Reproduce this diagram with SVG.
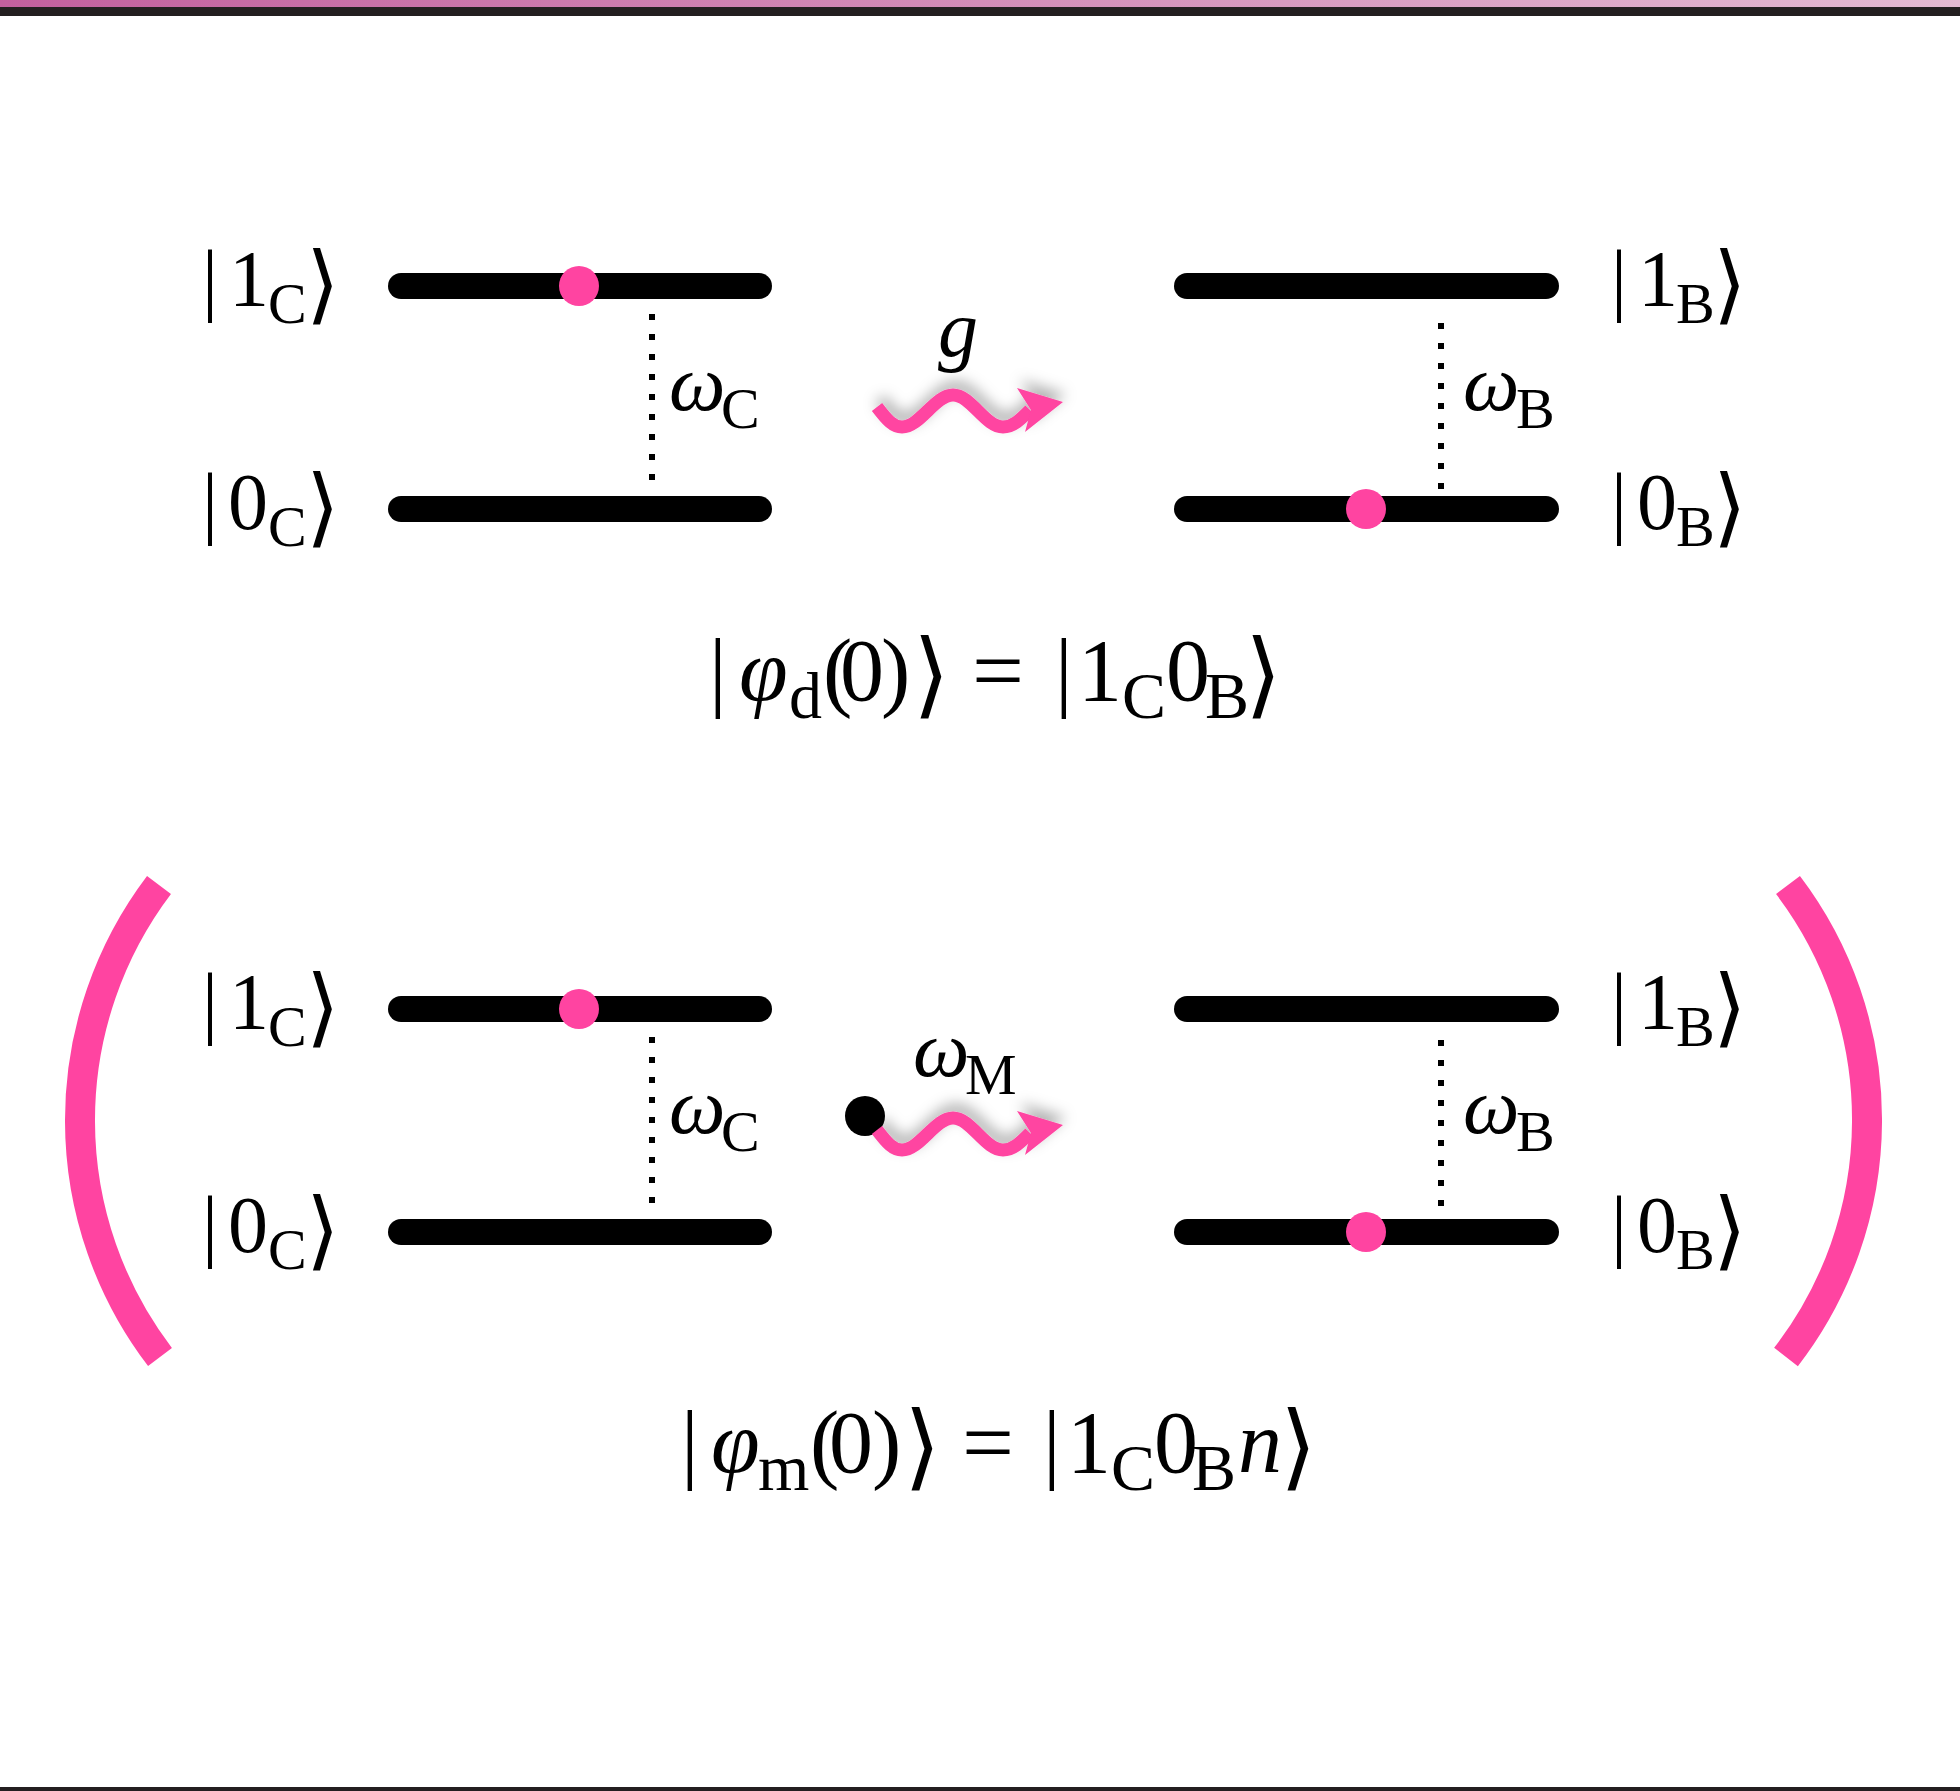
<svg xmlns="http://www.w3.org/2000/svg" width="1960" height="1791" viewBox="0 0 1960 1791">
<defs>
<linearGradient id="band" x1="0" y1="0" x2="1" y2="0">
<stop offset="0" stop-color="#c3609e"/>
<stop offset="1" stop-color="#e3bad2"/>
</linearGradient>
<filter id="sh" x="-30%" y="-80%" width="160%" height="260%">
<feDropShadow dx="3" dy="-8" stdDeviation="7" flood-color="#000" flood-opacity="0.3"/>
</filter>
<style>
.bar{stroke:#000;stroke-width:26;stroke-linecap:round;fill:none}
.dot{stroke:#000;stroke-width:6;stroke-dasharray:6 14;fill:none}
.pk{fill:#ff44a1}
.wave{stroke:#ff44a1;stroke-width:13;fill:none}
.brk{stroke:#ff44a1;stroke-width:30;fill:none}
.t{font-family:"Liberation Serif","DejaVu Serif","DejaVu Sans",serif;fill:#000}
.m{font-size:80px}
.s{font-size:58px}
.ka{font-size:86px}
.e{font-size:88px}
.es{font-size:66px}
.ek{font-size:94px}
.i{font-style:italic}
</style>
</defs>
<rect x="0" y="0" width="1960" height="1791" fill="#fff"/>
<rect x="0" y="0" width="1960" height="7" fill="url(#band)"/>
<rect x="0" y="7" width="1960" height="9" fill="#231f20"/>
<rect x="0" y="1787" width="1960" height="4" fill="#231f20"/>

<g id="top-cavity">
<line class="bar" x1="401" y1="286" x2="759" y2="286"/>
<line class="bar" x1="401" y1="509" x2="759" y2="509"/>
<line class="dot" x1="652" y1="314" x2="652" y2="484"/>
<circle class="pk" cx="579" cy="286" r="20"/>
<text class="t m" y="306"><tspan x="202">|</tspan><tspan x="229">1</tspan><tspan class="s" x="268" y="323">C</tspan><tspan class="ka" x="306" y="313">⟩</tspan></text>
<text class="t m" y="529"><tspan x="202">|</tspan><tspan x="228">0</tspan><tspan class="s" x="268" y="546">C</tspan><tspan class="ka" x="306" y="536">⟩</tspan></text>
<text class="t m" y="410"><tspan class="i" x="669">ω</tspan><tspan class="s" x="721" y="428">C</tspan></text>
</g>

<g id="top-bath">
<line class="bar" x1="1187" y1="286" x2="1546" y2="286"/>
<line class="bar" x1="1187" y1="509" x2="1546" y2="509"/>
<line class="dot" x1="1441" y1="323" x2="1441" y2="491"/>
<circle class="pk" cx="1366" cy="509" r="20"/>
<text class="t m" y="306"><tspan x="1611">|</tspan><tspan x="1638">1</tspan><tspan class="s" x="1676" y="323">B</tspan><tspan class="ka" x="1713" y="313">⟩</tspan></text>
<text class="t m" y="529"><tspan x="1611">|</tspan><tspan x="1637">0</tspan><tspan class="s" x="1676" y="546">B</tspan><tspan class="ka" x="1713" y="536">⟩</tspan></text>
<text class="t m" y="410"><tspan class="i" x="1463">ω</tspan><tspan class="s" x="1516" y="428">B</tspan></text>
</g>

<g id="top-equation">
<text class="t e" y="700"><tspan x="709">|</tspan><tspan class="i" x="739">φ</tspan><tspan class="es" x="789" y="718">d</tspan><tspan x="823" y="700">(</tspan><tspan x="840">0</tspan><tspan x="881">)</tspan><tspan class="ek" x="913" y="706">⟩</tspan><tspan x="1055" y="700">|</tspan><tspan x="1078">1</tspan><tspan class="es" x="1122" y="718">C</tspan><tspan x="1166" y="700">0</tspan><tspan class="es" x="1205" y="718">B</tspan><tspan class="ek" x="1245" y="706">⟩</tspan></text>
<text class="t e" x="972" y="700" textLength="52" lengthAdjust="spacingAndGlyphs">=</text>
</g>

<g id="bottom-cavity">
<line class="bar" x1="401" y1="1009" x2="759" y2="1009"/>
<line class="bar" x1="401" y1="1232" x2="759" y2="1232"/>
<line class="dot" x1="652" y1="1037" x2="652" y2="1207"/>
<circle class="pk" cx="579" cy="1009" r="20"/>
<text class="t m" y="1029"><tspan x="202">|</tspan><tspan x="229">1</tspan><tspan class="s" x="268" y="1046">C</tspan><tspan class="ka" x="306" y="1036">⟩</tspan></text>
<text class="t m" y="1252"><tspan x="202">|</tspan><tspan x="228">0</tspan><tspan class="s" x="268" y="1269">C</tspan><tspan class="ka" x="306" y="1259">⟩</tspan></text>
<text class="t m" y="1133"><tspan class="i" x="669">ω</tspan><tspan class="s" x="721" y="1151">C</tspan></text>
</g>

<g id="bottom-bath">
<line class="bar" x1="1187" y1="1009" x2="1546" y2="1009"/>
<line class="bar" x1="1187" y1="1232" x2="1546" y2="1232"/>
<line class="dot" x1="1441" y1="1040" x2="1441" y2="1212"/>
<circle class="pk" cx="1366" cy="1232" r="20"/>
<text class="t m" y="1029"><tspan x="1611">|</tspan><tspan x="1638">1</tspan><tspan class="s" x="1676" y="1046">B</tspan><tspan class="ka" x="1713" y="1036">⟩</tspan></text>
<text class="t m" y="1252"><tspan x="1611">|</tspan><tspan x="1637">0</tspan><tspan class="s" x="1676" y="1269">B</tspan><tspan class="ka" x="1713" y="1259">⟩</tspan></text>
<text class="t m" y="1133"><tspan class="i" x="1463">ω</tspan><tspan class="s" x="1516" y="1151">B</tspan></text>
</g>

<g id="mode">
<circle cx="865" cy="1116" r="20" fill="#000"/>
</g>

<g id="brackets">
<path class="brk" d="M159 885 A390 390 0 0 0 160 1357"/>
<path class="brk" d="M1788 885 A388 388 0 0 1 1786 1357"/>
</g>

<g id="connectors">
<g filter="url(#sh)">
<path class="wave" d="M877 407 C887 420 893 427 902 427 C920 427 935 395 953 395 C971 395 985 427 1003 427 C1013 427 1020 420 1030 410"/>
<polygon class="pk" points="1017,388 1063,402 1025,432 1031,410"/>
</g>
<g filter="url(#sh)" transform="translate(0,723)">
<path class="wave" d="M877 407 C887 420 893 427 902 427 C920 427 935 395 953 395 C971 395 985 427 1003 427 C1013 427 1020 420 1030 410"/>
<polygon class="pk" points="1017,388 1063,402 1025,432 1031,410"/>
</g>
<text class="t m i" x="938" y="356">g</text>
<text class="t m" y="1076"><tspan class="i" x="913">ω</tspan><tspan class="s" x="965" y="1094">M</tspan></text>
</g>

<g id="bottom-equation">
<text class="t e" y="1472"><tspan x="681">|</tspan><tspan class="i" x="711">φ</tspan><tspan class="es" x="758" y="1490">m</tspan><tspan x="810" y="1472">(</tspan><tspan x="829">0</tspan><tspan x="872">)</tspan><tspan class="ek" x="904" y="1478">⟩</tspan><tspan x="1043" y="1472">|</tspan><tspan x="1067">1</tspan><tspan class="es" x="1111" y="1490">C</tspan><tspan x="1154" y="1472">0</tspan><tspan class="es" x="1192" y="1490">B</tspan><tspan class="i" x="1238" y="1472">n</tspan><tspan class="ek" x="1280" y="1478">⟩</tspan></text>
<text class="t e" x="962" y="1472" textLength="52" lengthAdjust="spacingAndGlyphs">=</text>
</g>
</svg>
